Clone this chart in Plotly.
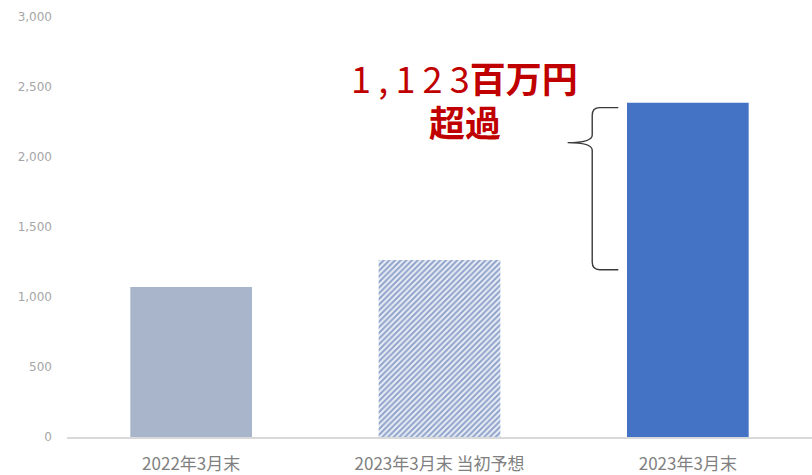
import plotly.graph_objects as go

# Balance at each point in time (millions of yen)
categories = ["2022年3月末", "2023年3月末 当初予想", "2023年3月末"]
values = [1071, 1265, 2388]
excess = values[2] - values[1]  # 1,123

bar_colors = ["#A9B5CA", "#EAEEF6", "#4472C4"]
pattern_shapes = ["", "/", ""]

y_ticks = [0, 500, 1000, 1500, 2000, 2500, 3000]

fig = go.Figure()
for cat, val, color, shape in zip(categories, values, bar_colors, pattern_shapes):
    marker = dict(color=color, line=dict(width=0))
    if shape:
        marker["pattern"] = dict(
            shape=shape, fgcolor="#8FA3CB", fgopacity=1,
            fillmode="overlay", size=4, solidity=0.5,
        )
    fig.add_trace(go.Bar(x=[cat], y=[val], width=0.49, marker=marker,
                         hoverinfo="skip"))

# Curly brace spanning the gap between forecast and actual
x_line, x_arm, x_tip = 0.705, 0.740, 0.672
rx, ry = 0.010, 55
top = values[2] - 35
bottom = values[1] - 70
tip = top - 250
brace = (
    f"M {x_arm},{top} L {x_line + rx},{top} Q {x_line},{top} {x_line},{top - ry} "
    f"L {x_line},{tip + ry} Q {x_line},{tip} {x_tip},{tip} "
    f"Q {x_line},{tip} {x_line},{tip - ry} "
    f"L {x_line},{bottom + ry} Q {x_line},{bottom} {x_line + rx},{bottom} L {x_arm},{bottom}"
)
fig.add_shape(type="path", path=brace, xref="paper", yref="y",
              line=dict(color="#3A3A3A", width=1.4))

amount = f"{excess:,}"
spaced = "\u2009".join(amount)
fig.add_annotation(
    x=0.534, xref="paper", y=2575, yref="y",
    text=f"{spaced}<b>百万円</b>", showarrow=False,
    font=dict(family="Noto Sans CJK JP", size=36, color="#C00000"),
)
fig.add_annotation(
    x=0.534, xref="paper", y=2260, yref="y",
    text="<b>超過</b>", showarrow=False,
    font=dict(family="Noto Sans CJK JP", size=36, color="#C00000"),
)

fig.update_layout(
    width=812,
    height=475,
    margin=dict(l=67, r=0, t=17, b=38),
    paper_bgcolor="white",
    plot_bgcolor="white",
    showlegend=False,
    barmode="overlay",
    font=dict(family="Noto Sans CJK JP"),
)
fig.update_xaxes(
    showline=True, linecolor="#D9D9D9", linewidth=1.5,
    showgrid=False, ticks="", ticklabelstandoff=11,
    tickfont=dict(size=17, color="#808080"),
)
fig.update_yaxes(
    range=[0, 3000], tickvals=y_ticks, tickformat=",",
    showgrid=False, zeroline=False, showline=False,
    ticks="", ticklabelstandoff=14,
    tickfont=dict(size=12, color="#A6A6A6", family="DejaVu Sans"),
)

fig.write_html("out.html")
